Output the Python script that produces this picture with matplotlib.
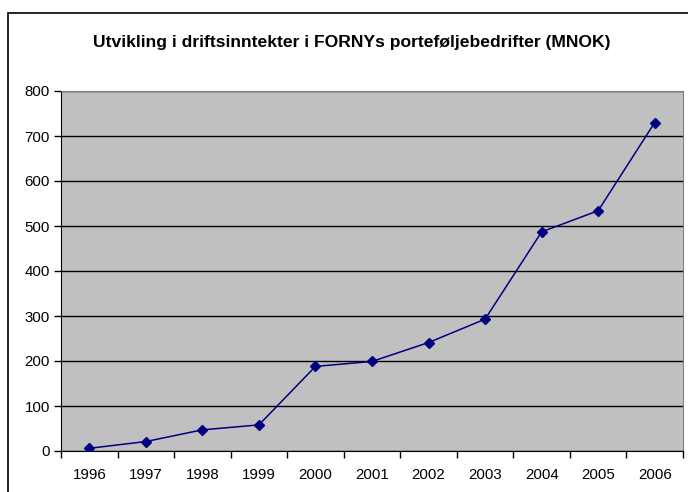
import matplotlib

matplotlib.use("Agg")

import matplotlib.pyplot as plt
from matplotlib.patches import Rectangle
from matplotlib.ticker import FixedLocator, MultipleLocator

plt.rcParams["font.family"] = ["Liberation Sans", "DejaVu Sans"]

years = ["1996", "1997", "1998", "1999", "2000", "2001",
         "2002", "2003", "2004", "2005", "2006"]
revenue = [6, 21, 47, 58, 188, 199, 241, 293, 487, 534, 730]

fig = plt.figure(figsize=(6.88, 4.92), dpi=100)
fig.patch.set_facecolor("white")

# frame around the whole chart (clipped at right/bottom like the source)
fig.patches.append(Rectangle((8 / 688, -0.05), 1.2, 1 - 13 / 492 + 0.05,
                             transform=fig.transFigure, fill=False,
                             edgecolor="black", lw=1.2, clip_on=False))

ax = fig.add_axes([61 / 688, 41 / 492, 622 / 688, 360 / 492])
ax.set_facecolor("#c0c0c0")

x = list(range(len(years)))
ax.plot(x, revenue, color="#000080", lw=1.1, marker="D", ms=5,
        markerfacecolor="#000080", markeredgecolor="#000080", zorder=3)

ax.set_xlim(-0.5, len(years) - 0.5)
ax.set_ylim(0, 800)
ax.yaxis.set_major_locator(MultipleLocator(100))
ax.grid(axis="y", color="black", lw=1)
ax.set_axisbelow(True)

ax.xaxis.set_major_locator(FixedLocator([i - 0.5 for i in range(len(years) + 1)]))
ax.xaxis.set_minor_locator(FixedLocator(x))
ax.set_xticklabels([])
ax.set_xticklabels(years, minor=True)
ax.tick_params(axis="x", which="major", length=5, width=1, direction="out")
ax.tick_params(axis="x", which="minor", length=0, pad=12, labelsize=10.8)
ax.tick_params(axis="y", length=5, width=1, direction="out", labelsize=10.8, pad=3)

for side in ["top", "right"]:
    ax.spines[side].set_color("#808080")
for side in ["left", "bottom"]:
    ax.spines[side].set_color("black")

fig.text(352 / 688, 1 - 43 / 492,
         "Utvikling i driftsinntekter i FORNYs porteføljebedrifter (MNOK)",
         ha="center", va="center", fontsize=12.6, fontweight="bold")

fig.savefig("out.png", dpi=100)
